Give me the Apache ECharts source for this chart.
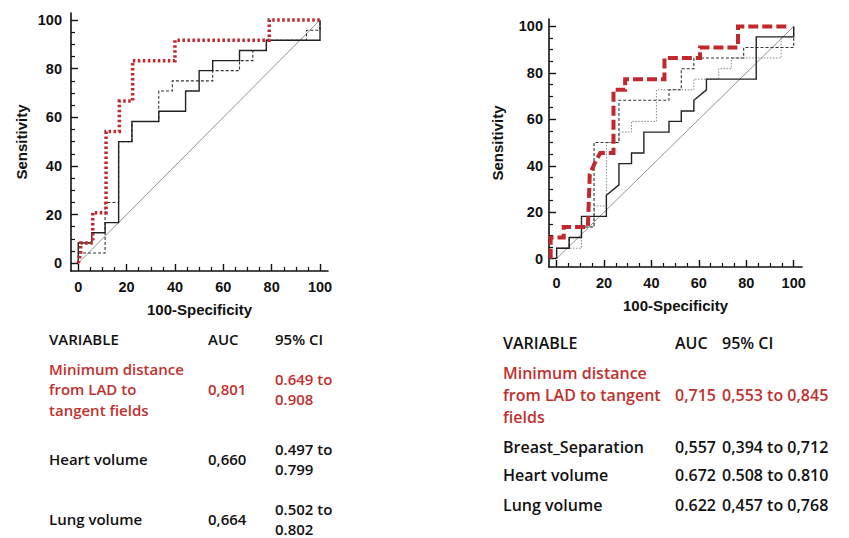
<html>
<head>
<meta charset="utf-8">
<title>ROC curves</title>
<script src="https://cdn.jsdelivr.net/npm/echarts@6/dist/echarts.min.js"></script>
<style>
  body { margin: 0; background: #fff; }
  #main { width: 849px; height: 538px; }
</style>
</head>
<body>
<div id="main"></div>
<script>
// tick values
var majorTicks = [0, 20, 40, 60, 80, 100];
var minorTicks = [5, 10, 15, 25, 30, 35, 45, 50, 55, 65, 70, 75, 85, 90, 95];

// left plot: [100-specificity, sensitivity]
var leftDiag = [[0, 0], [100, 100]];
var leftMinDist = [[0, 0], [1, 4.2], [1, 8.3], [6, 8.3], [6, 20.8], [11.5, 20.8], [11.5, 54.2], [17, 54.2], [17, 66.7],
  [22.5, 66.7], [22.5, 83.3], [40, 83.3], [40, 91.7], [79, 91.7], [79, 100], [100, 100]];
var leftHeart = [[0, 0], [0, 8.3], [5.6, 8.3], [5.6, 12.5], [11.1, 12.5], [11.1, 16.7], [16.7, 16.7], [16.7, 50], [22.2, 50],
  [22.2, 58.3], [33.3, 58.3], [33.3, 62.5], [44.4, 62.5], [44.4, 70.8], [50, 70.8], [50, 79.2], [55.6, 79.2], [55.6, 83.3],
  [66.7, 83.3], [66.7, 87.5], [77.8, 87.5], [77.8, 91.7], [100, 91.7], [100, 100]];
var leftLung = [[0, 0], [0, 4.2], [11.1, 4.2], [11.1, 25], [16.7, 25], [16.7, 50], [22.2, 50], [22.2, 58.3], [33.3, 58.3],
  [33.3, 70.8], [38.9, 70.8], [38.9, 75], [55.6, 75], [55.6, 79.2], [66.7, 79.2], [66.7, 83.3], [72.2, 83.3], [72.2, 87.5],
  [77.8, 87.5], [77.8, 91.7], [94.4, 91.7], [94.4, 95.8], [100, 95.8], [100, 100]];

// right plot
var rightDiag = [[0, 0], [100, 100]];
var rightMinDist = [[-2.5, 0], [-2.5, 9.1], [3, 9.1], [3, 13.6], [13.2, 13.6], [14, 36.4], [16, 40.9], [18.4, 45.5], [24, 45.5],
  [24, 72.7], [28.9, 72.7], [28.9, 77.3], [45.5, 77.3], [45.5, 86.4], [60.5, 86.4], [60.5, 90.9], [76.5, 90.9], [76.5, 100], [98, 100]];
var rightBreast = [[0, 0], [0, 4.5], [5.3, 4.5], [5.3, 9.1], [10.5, 9.1], [10.5, 18.2], [21, 18.2], [21, 27.3], [26.3, 31.8],
  [26.3, 40.9], [31.6, 40.9], [31.6, 45.5], [36.8, 45.5], [36.8, 54.5], [47.4, 54.5], [47.4, 59.1], [52.6, 59.1], [52.6, 63.6],
  [57.9, 63.6], [57.9, 68.2], [63.2, 72.7], [63.2, 77.3], [84.2, 77.3], [84.2, 95.5], [100, 95.5], [100, 100]];
var rightHeart = [[0, 0], [0, 4.5], [5.3, 4.5], [5.3, 9.1], [10.5, 9.1], [10.5, 13.6], [15.8, 13.6], [15.8, 50], [26.3, 50],
  [26.3, 68.2], [47.4, 68.2], [47.4, 72.7], [52.6, 72.7], [52.6, 81.8], [57.9, 81.8], [57.9, 86.4], [78.9, 86.4], [78.9, 90.9],
  [100, 90.9], [100, 100]];
var rightLung = [[0, 0], [0, 4.5], [10.5, 4.5], [10.5, 13.6], [15.8, 13.6], [15.8, 22.7], [21, 22.7], [21, 50], [26.3, 50],
  [26.3, 54.5], [31.6, 54.5], [31.6, 59.1], [42.1, 59.1], [42.1, 72.7], [57.9, 72.7], [57.9, 77.3], [68.4, 77.3], [68.4, 81.8],
  [73.7, 81.8], [73.7, 86.4], [94.7, 86.4], [94.7, 95.5], [100, 95.5]];

// tables
var tableHead = ['VARIABLE', 'AUC', '95% CI'];
var leftVars = [['Minimum distance', 'from LAD to', 'tangent fields'], ['Heart volume'], ['Lung volume']];
var leftAuc = ['0,801', '0,660', '0,664'];
var leftCi = [['0.649 to', '0.908'], ['0.497 to', '0.799'], ['0.502 to', '0.802']];
var rightVars = [['Minimum distance', 'from LAD to tangent', 'fields'], ['Breast_Separation'], ['Heart volume'], ['Lung volume']];
var rightAuc = ['0,715', '0,557', '0.672', '0.622'];
var rightCi = [['0,553 to 0,845'], ['0,394 to 0,712'], ['0.508 to 0.810'], ['0,457 to 0,768']];

var RED = '#c0282d';
var RED_TXT = '#c0302e';
var tickFont = 'Liberation Sans, Arial, sans-serif';

var myChart = echarts.init(document.getElementById('main'), null, { renderer: 'svg' });

function xAxes(grid, min, max) {
  return [{
    type: 'value', gridIndex: grid, min: min, max: max, position: 'bottom',
    name: '100-Specificity', nameLocation: 'middle', nameGap: 31,
    nameTextStyle: { fontFamily: tickFont, fontWeight: 'bold', fontSize: 15, color: '#111' },
    axisLine: { onZero: false, lineStyle: { color: '#111', width: 1.6 } },
    axisTick: { inside: true, length: 4, customValues: minorTicks, lineStyle: { color: '#111', width: 1.2 } },
    axisLabel: { customValues: majorTicks, margin: 8, fontFamily: tickFont, fontWeight: 'bold', fontSize: 14.5, color: '#111' },
    splitLine: { show: false }
  }, {
    type: 'value', gridIndex: grid, min: min, max: max, position: 'bottom', offset: 0,
    axisLine: { show: false, onZero: false },
    axisTick: { inside: true, length: 7, customValues: majorTicks, lineStyle: { color: '#111', width: 1.4 } },
    axisLabel: { show: false },
    splitLine: { show: false }
  }];
}

function yAxes(grid, min, max, margin, gap) {
  return [{
    type: 'value', gridIndex: grid, min: min, max: max, position: 'left',
    name: 'Sensitivity', nameLocation: 'middle', nameGap: gap,
    nameTextStyle: { fontFamily: tickFont, fontWeight: 'bold', fontSize: 15, color: '#111' },
    axisLine: { onZero: false, lineStyle: { color: '#111', width: 1.6 } },
    axisTick: { inside: true, length: 4, customValues: minorTicks, lineStyle: { color: '#111', width: 1.2 } },
    axisLabel: { customValues: majorTicks, margin: margin, fontFamily: tickFont, fontWeight: 'bold', fontSize: 14.5, color: '#111' },
    splitLine: { show: false }
  }, {
    type: 'value', gridIndex: grid, min: min, max: max, position: 'left', offset: 0,
    axisLine: { show: false, onZero: false },
    axisTick: { inside: true, length: 7, customValues: majorTicks, lineStyle: { color: '#111', width: 1.4 } },
    axisLabel: { show: false },
    splitLine: { show: false }
  }];
}

function curve(data, xi, color, width, type) {
  return {
    type: 'line', data: data, xAxisIndex: xi, yAxisIndex: xi,
    showSymbol: false, symbol: 'none', animation: false, silent: true,
    lineStyle: { color: color, width: width, type: type, cap: 'butt', join: 'miter' }
  };
}

// tables drawn as text
var graphics = [];
function txt(s, x, y, size, color) {
  graphics.push({
    type: 'text', x: x, y: y, silent: true,
    style: { text: s, fill: color, font: '600 ' + size + 'px "Open Sans", "Noto Sans", sans-serif', verticalAlign: 'middle', align: 'left' }
  });
}
function table(cols, headY, centers, lh, size, vars, auc, ci) {
  tableHead.forEach(function (h, i) { txt(h, cols[i], headY, size, '#111'); });
  for (var r = 0; r < vars.length; r++) {
    var c = r === 0 ? RED_TXT : '#111';
    var n = vars[r].length;
    vars[r].forEach(function (s, k) { txt(s, cols[0], centers[r] + (k - (n - 1) / 2) * lh, size, c); });
    txt(auc[r], cols[1], centers[r], size, c);
    var m = ci[r].length;
    ci[r].forEach(function (s, k) { txt(s, cols[2], centers[r] + (k - (m - 1) / 2) * lh, size, c); });
  }
}
table([49, 208, 275], 339, [389, 459, 519], 20.5, 15, leftVars, leftAuc, leftCi);
table([503, 675, 722], 343, [395, 447, 475, 505], 21.7, 16, rightVars, rightAuc, rightCi);

var option = {
  animation: false,
  grid: [
    { left: 71, top: 13, width: 257, height: 258 },
    { left: 549, top: 19, width: 253, height: 248 }
  ],
  xAxis: xAxes(0, -3, 103.3).concat(xAxes(1, -3.2, 103.5)),
  yAxis: yAxes(0, -3.2, 102.9, 9, 42).concat(yAxes(1, -3.6, 103.2, 6, 44)),
  series: [
    curve(leftDiag, 0, '#777', 0.8, 'solid'),
    curve(leftLung, 0, '#333', 1.1, [3, 2]),
    curve(leftHeart, 0, '#222', 1.4, 'solid'),
    curve(leftMinDist, 0, RED, 3.5, [2.5, 2.5]),
    curve(rightDiag, 2, '#777', 0.8, 'solid'),
    curve(rightLung, 2, '#888', 1, [1.5, 1.5]),
    curve(rightHeart, 2, '#333', 1.1, [3, 2]),
    curve(rightBreast, 2, '#222', 1.4, 'solid'),
    curve(rightMinDist, 2, RED, 4, [10, 4])
  ],
  graphic: graphics
};
myChart.setOption(option);
</script>
</body>
</html>
